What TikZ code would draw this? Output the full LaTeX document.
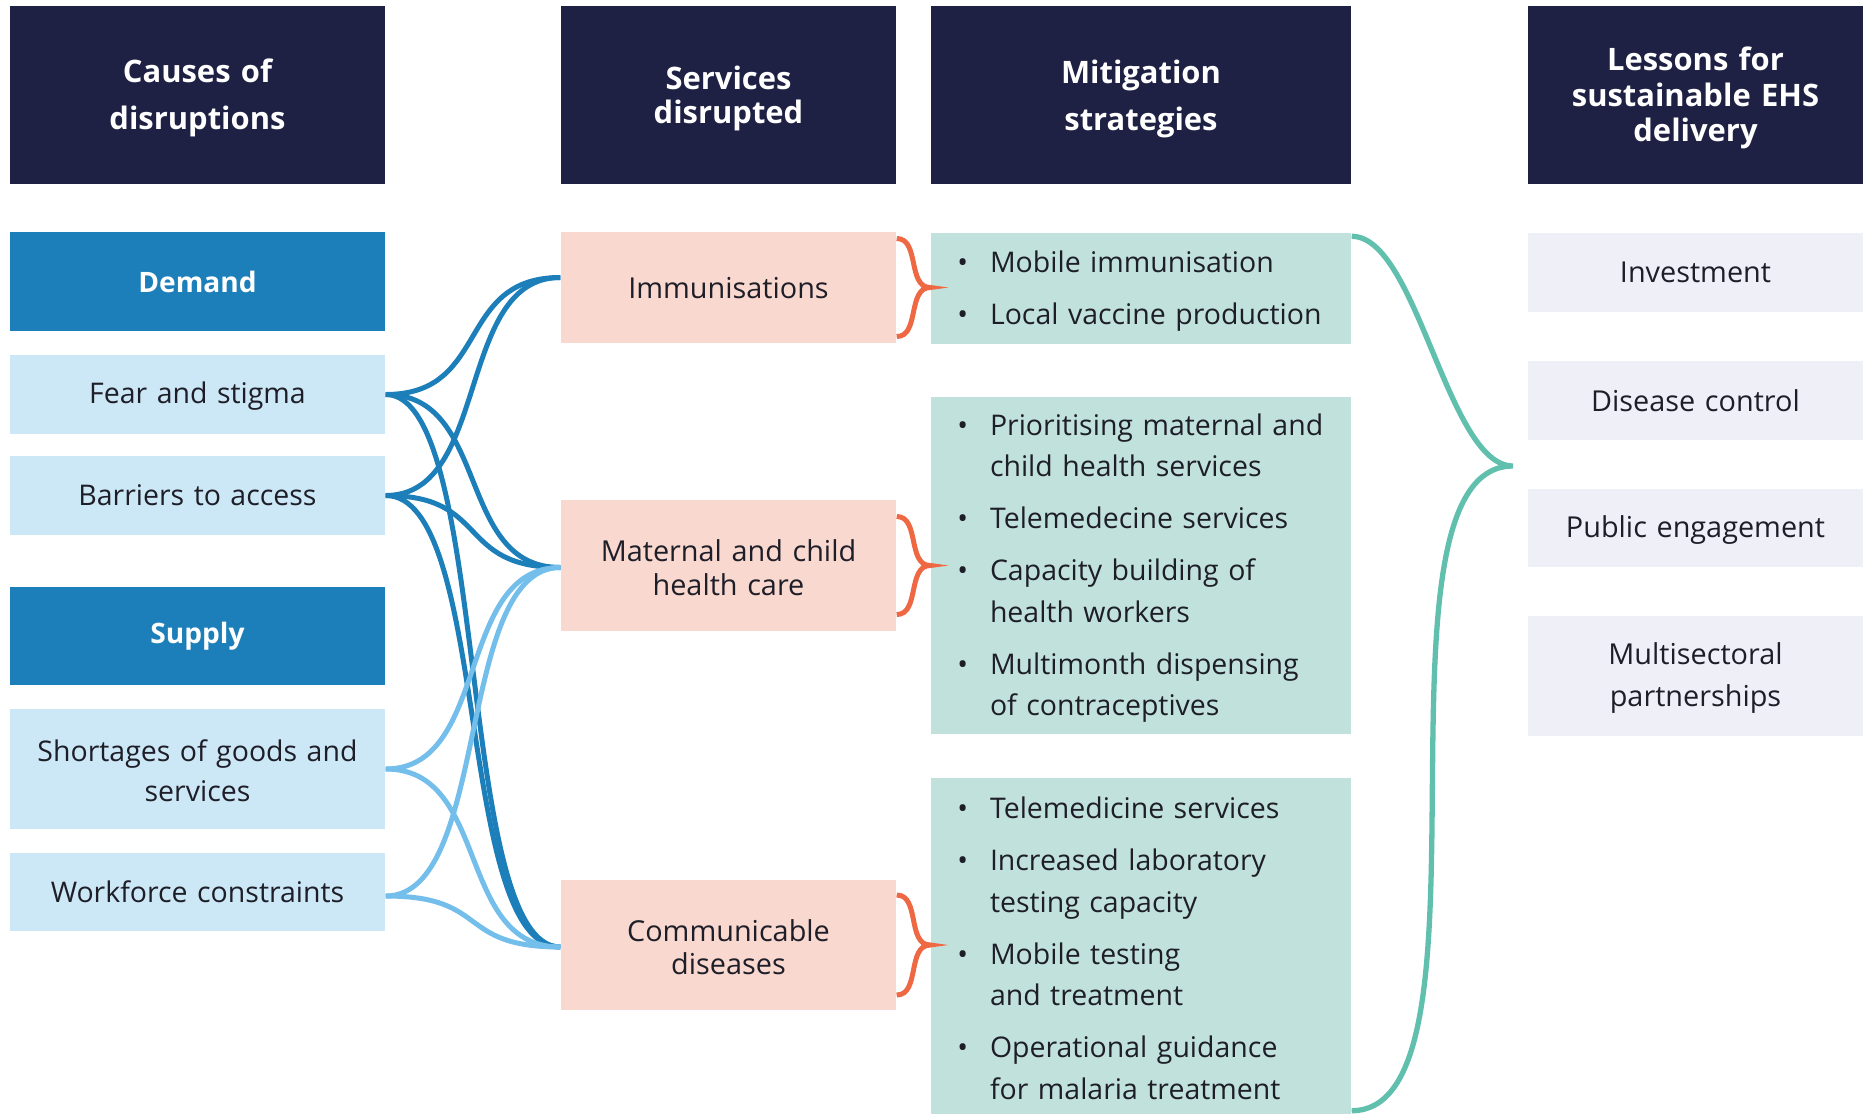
\documentclass[tikz,border=0pt]{standalone}
\usepackage{fontspec}
\setmainfont{Open Sans}
\usepackage{enumitem}
\setlist[itemize]{nosep, itemsep=3pt, leftmargin=5.4mm, labelsep=2.2mm, label=\textbullet}

\definecolor{navy}{RGB}{31,33,68}
\definecolor{deepblue}{RGB}{28,127,185}
\definecolor{paleblue}{RGB}{204,231,245}
\definecolor{skyline}{RGB}{115,190,234}
\definecolor{peach}{RGB}{249,216,207}
\definecolor{rust}{RGB}{237,104,67}
\definecolor{mint}{RGB}{193,226,220}
\definecolor{tealline}{RGB}{96,191,173}
\definecolor{lavender}{RGB}{239,239,248}
\definecolor{ink}{RGB}{30,30,40}

\tikzset{
  nudge/.style={execute at end node={\par\vspace{#1}}},
  head/.style={fill=navy, text=white, minimum height=1.78cm, inner sep=0pt, align=center, nudge=-0.6mm},
  group/.style={fill=deepblue, text=white, minimum width=3.75cm, inner sep=0pt, font=\bfseries\fontsize{8}{11}\selectfont},
  cause/.style={fill=paleblue, text=ink, text width=3.75cm, inner sep=0pt, align=center, nudge=-0.4mm, font=\fontsize{8.1}{11.4}\selectfont},
  service/.style={fill=peach, text=ink, text width=3.35cm, inner sep=0pt, align=center, nudge=-0.4mm, font=\fontsize{8.2}{9.5}\selectfont},
  strategy/.style={fill=mint, text=ink, minimum width=4.2cm, text width=4.1cm, inner sep=0pt, align=left, execute at begin node={\vspace*{-1.5mm}}, font=\fontsize{8.1}{11.8}\selectfont},
  lesson/.style={fill=lavender, text=ink, text width=3.35cm, inner sep=0pt, align=center, nudge=-0.4mm, font=\fontsize{8.2}{11.8}\selectfont},
  demandlink/.style={deepblue, line width=0.5mm, out=0, in=180, distance=10.5mm},
  supplylink/.style={skyline, line width=0.5mm, out=0, in=180, distance=10.5mm},
  brace/.style={rust, line width=0.5mm},
}

\begin{document}
\begin{tikzpicture}

\useasboundingbox (0,0) rectangle (18.7,-11.14);

\node[head, text width=3.75cm, font=\bfseries\fontsize{8.8}{13.2}\selectfont] (hcause) at (1.975,-0.95) {Causes of\\disruptions};
\node[head, text width=3.35cm, nudge=-0.1mm, font=\bfseries\fontsize{8.8}{9.8}\selectfont] (hserv) at (7.285,-0.95) {Services\\disrupted};
\node[head, text width=4.2cm, nudge=-0.2mm, font=\bfseries\fontsize{8.8}{13.5}\selectfont] (hmit) at (11.41,-0.95) {Mitigation\\strategies};
\node[head, text width=3.35cm, font=\bfseries\fontsize{8.8}{10.1}\selectfont] (hless) at (16.955,-0.95) {Lessons for\\sustainable EHS\\delivery};

\node[group, minimum height=0.99cm] (demand) at (1.975,-2.815) {Demand};
\node[cause, minimum height=0.79cm] (fear) at (1.975,-3.945) {Fear and stigma};
\node[cause, minimum height=0.79cm] (barriers) at (1.975,-4.955) {Barriers to access};
\node[group, minimum height=0.98cm] (supply) at (1.975,-6.36) {Supply};
\node[cause, minimum height=1.2cm] (shortages) at (1.975,-7.69) {Shortages of goods and\\services};
\node[cause, minimum height=0.78cm] (workforce) at (1.975,-8.92) {Workforce constraints};

\node[service, minimum height=1.11cm] (immun) at (7.285,-2.875) {Immunisations};
\node[service, minimum height=1.31cm] (maternal) at (7.285,-5.655) {Maternal and child\\health care};
\node[service, minimum height=1.30cm] (commun) at (7.285,-9.45) {Communicable\\diseases};

\node[strategy, minimum height=1.11cm] (mitA) at (11.41,-2.885) {%
\begin{itemize}
\item Mobile immunisation
\item Local vaccine production
\end{itemize}};
\node[strategy, minimum height=3.37cm] (mitB) at (11.41,-5.655) {%
\begin{itemize}
\item Prioritising maternal and\newline child health services
\item Telemedecine services
\item Capacity building of\newline health workers
\item Multimonth dispensing\newline of contraceptives
\end{itemize}};
\node[strategy, minimum height=3.36cm] (mitC) at (11.41,-9.46) {%
\begin{itemize}
\item Telemedicine services
\item Increased laboratory\newline testing capacity
\item Mobile testing\newline and treatment
\item Operational guidance\newline for malaria treatment
\end{itemize}};

\node[lesson, minimum height=0.79cm] (invest) at (16.955,-2.725) {Investment};
\node[lesson, minimum height=0.79cm] (disease) at (16.955,-4.005) {Disease control};
\node[lesson, minimum height=0.78cm] (public) at (16.955,-5.28) {Public engagement};
\node[lesson, minimum height=1.2cm] (multi) at (16.955,-6.76) {Multisectoral\\partnerships};

\draw[demandlink] (fear.east) to ([yshift=1mm]immun.west);
\draw[demandlink] (fear.east) to ([yshift=-0.2mm]maternal.west);
\draw[demandlink] (fear.east) to ([yshift=-0.2mm]commun.west);
\draw[demandlink] (barriers.east) to ([yshift=1mm]immun.west);
\draw[demandlink] (barriers.east) to ([yshift=-0.2mm]maternal.west);
\draw[demandlink] (barriers.east) to ([yshift=-0.2mm]commun.west);

\draw[supplylink] (shortages.east) to ([yshift=-0.2mm]maternal.west);
\draw[supplylink] (shortages.east) to ([yshift=-0.2mm]commun.west);
\draw[supplylink] ([yshift=-0.4mm]workforce.east) to ([yshift=-0.2mm]maternal.west);
\draw[supplylink] ([yshift=-0.4mm]workforce.east) to ([yshift=-0.2mm]commun.west);

\draw[brace] ([yshift=4.9mm]immun.east) to[out=0,in=180] (immun.east -| mitA.west) to[out=180,in=0] ([yshift=-4.9mm]immun.east);
\draw[brace] ([yshift=4.9mm]maternal.east) to[out=0,in=180] (maternal.east -| mitB.west) to[out=180,in=0] ([yshift=-4.9mm]maternal.east);
\draw[brace] ([yshift=5mm]commun.east) to[out=0,in=180] (commun.east -| mitC.west) to[out=180,in=0] ([yshift=-5mm]commun.east);

\coordinate (lessontip) at (15.13,-4.66);
\draw[tealline, line width=0.53mm] ([yshift=-0.4mm]mitA.north east) to[out=0,in=180,looseness=0.6] (lessontip) to[out=180,in=0,looseness=0.6] ([yshift=0.4mm]mitC.south east);

\end{tikzpicture}
\end{document}
